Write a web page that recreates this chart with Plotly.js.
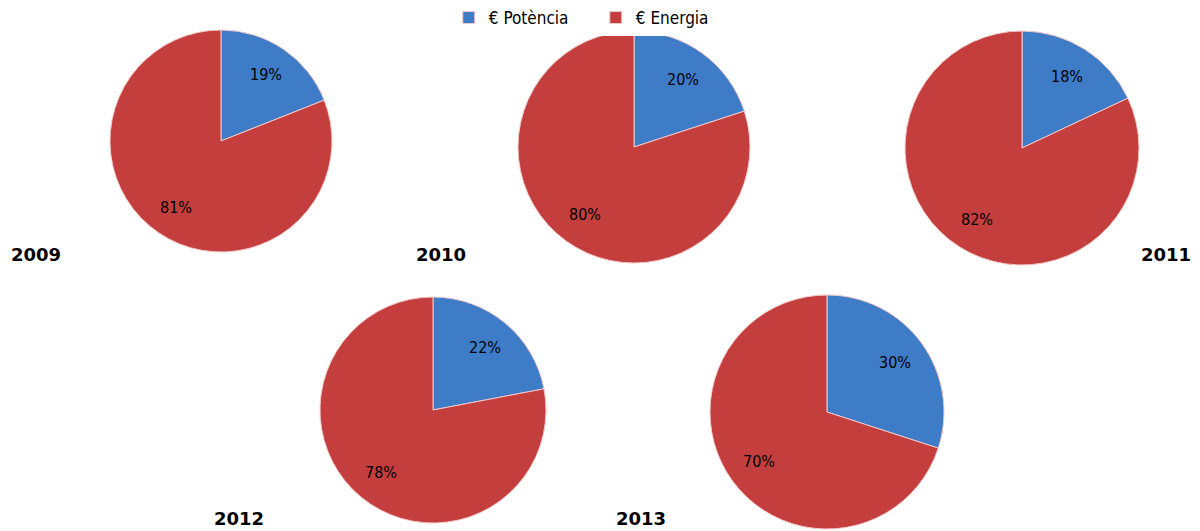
<!DOCTYPE html>
<html>
<head>
<meta charset="utf-8">
<script src="https://cdn.plot.ly/plotly-3.0.1.min.js"></script>
<style>html,body{margin:0;padding:0;background:#fff;}#chart{width:1200px;height:531px;}</style>
</head>
<body>
<div id="chart"></div>
<script>
const years = ['2009', '2010', '2011', '2012', '2013'];
const labels = ['€ Potència', '€ Energia'];
const potencia = [19, 20, 18, 22, 30];
const energia = [81, 80, 82, 78, 70];

// layout geometry (pixel centres and radii of each pie)
const W = 1200, H = 531;
const centers = [[221, 141, 111], [634, 147, 116], [1022, 148, 117], [433, 410, 113], [827, 412, 117]];
const yearPos = [[36, 254], [441, 254], [1166, 254], [239, 518], [641, 518]];
const colors = ['#3E7CC8', '#C43E3E'];
const labelRadius = 0.72;

const data = years.map((y, i) => {
  const [cx, cy, r] = centers[i];
  return {
    type: 'pie',
    name: y,
    labels: labels,
    values: [potencia[i], energia[i]],
    sort: false,
    direction: 'clockwise',
    rotation: 0,
    textinfo: 'none',
    marker: {colors: colors, line: {color: '#f2c8c8', width: 1}},
    domain: {x: [(cx - r) / W, (cx + r) / W], y: [1 - (cy + r) / H, 1 - (cy - r) / H]},
    hoverinfo: 'label+percent'
  };
});

const annotations = years.map((y, i) => ({
  text: '<b>' + y + '</b>',
  x: yearPos[i][0] / W, y: 1 - yearPos[i][1] / H,
  xref: 'paper', yref: 'paper', showarrow: false,
  xanchor: 'center', yanchor: 'middle',
  font: {family: 'DejaVu Sans', size: 18, color: '#000'}
}));

// percentage labels placed at each slice's mid-angle
years.forEach((y, i) => {
  const [cx, cy, r] = centers[i];
  const vals = [potencia[i], energia[i]];
  const tot = vals.reduce((a, b) => a + b, 0);
  let cum = 0;
  vals.forEach(v => {
    const mid = (cum + v / 2) / tot * 2 * Math.PI;
    cum += v;
    const px = cx + labelRadius * r * Math.sin(mid);
    const py = cy - labelRadius * r * Math.cos(mid);
    annotations.push({
      text: v + '%', x: px / W, y: 1 - py / H,
      xref: 'paper', yref: 'paper', showarrow: false,
      xanchor: 'center', yanchor: 'middle',
      font: {family: 'DejaVu Sans Condensed, DejaVu Sans', size: 16, color: '#000'}
    });
  });
});

const layout = {
  width: W, height: H,
  margin: {l: 0, r: 0, t: 0, b: 0},
  paper_bgcolor: '#fff',
  showlegend: true,
  legend: {orientation: 'h', x: 0.374, y: 1.0, xanchor: 'left', yanchor: 'top',
           font: {family: 'DejaVu Sans Condensed, DejaVu Sans', size: 17, color: '#000'},
           entrywidth: 102, entrywidthmode: 'pixels', traceorder: 'normal'},
  annotations: annotations
};

Plotly.newPlot('chart', data, layout, {displayModeBar: false});
</script>
</body>
</html>
